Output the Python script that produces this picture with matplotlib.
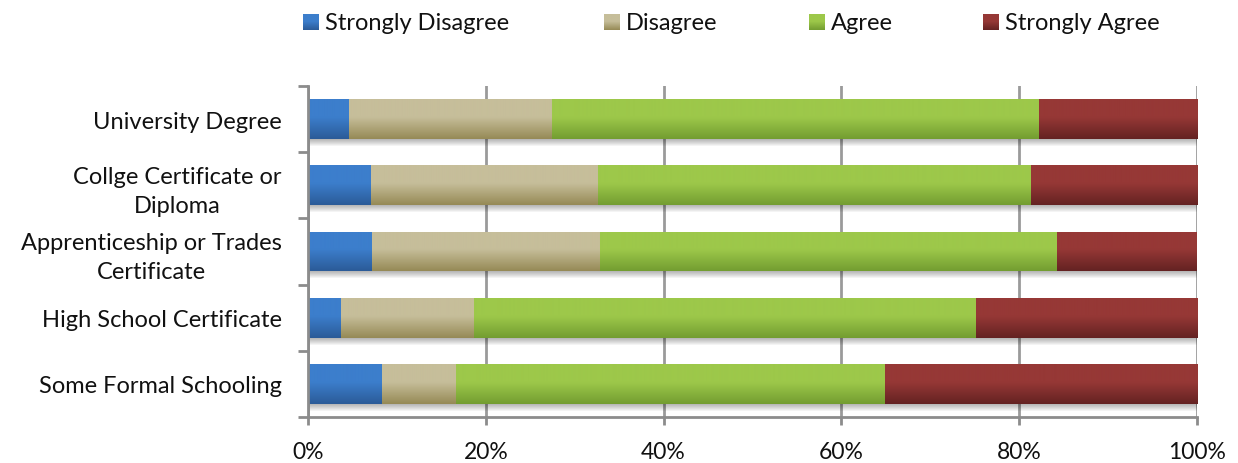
import numpy as np
import matplotlib
matplotlib.use("Agg")
import matplotlib.pyplot as plt
from matplotlib.colors import LinearSegmentedColormap
from matplotlib.patches import Rectangle
from matplotlib.ticker import FixedLocator, PercentFormatter

plt.rcParams['font.family'] = ['Lato', 'DejaVu Sans']

categories = ["University Degree", "Collge Certificate or\nDiploma",
              "Apprenticeship or Trades\nCertificate", "High School Certificate",
              "Some Formal Schooling"]
series_names = ["Strongly Disagree", "Disagree", "Agree", "Strongly Agree"]
strongly_disagree = [4.6, 7.1, 7.2, 3.7, 8.3]
disagree = [22.8, 25.5, 25.6, 15.0, 8.3]
agree = [54.8, 48.7, 51.5, 56.4, 48.3]
strongly_agree = [17.8, 18.7, 15.7, 24.9, 35.1]
x_ticks = [0, 20, 40, 60, 80, 100]

# light (top) / dark (bottom) shade of each series
shades = [("#3C7ECC", "#2B5B98"), ("#C6BE9A", "#968A56"),
          ("#9DC84A", "#739D31"), ("#963836", "#642222")]

W, H = 1238, 464
fig = plt.figure(figsize=(W / 100, H / 100), dpi=100)
ax = fig.add_axes([308 / W, 1 - 418 / H, (1197 - 308) / W, (418 - 87) / H])

values = [strongly_disagree, disagree, agree, strongly_agree]
n = len(categories)
ypos = np.arange(n)[::-1]
h = 0.6
px = 1.0 / 66.0          # one pixel in y data units
pxx = 100.0 / 889.0      # one pixel in x data units

# soft drop shadow under each full bar
totals = np.sum(values, axis=0)
for k in range(7):
    for y, t in zip(ypos, totals):
        ax.add_patch(Rectangle((0, y - h / 2 - (k + 1) * px), t + 3 * pxx,
                               (k + 1) * px + h * 0.5,
                               facecolor="#000000", alpha=0.045, lw=0, zorder=1.5))

grad = np.linspace(0, 1, 120).reshape(-1, 1)

left = np.zeros(n)
for vals, name, (light, dark) in zip(values, series_names, shades):
    bars = ax.barh(ypos, vals, left=left, height=h, color=light, label=name,
                   zorder=2, lw=0)
    cmap = LinearSegmentedColormap.from_list(
        name, [(0, light), (0.45, light), (1, dark)])
    for b in bars:
        x0, y0 = b.get_x(), b.get_y()
        w, hh = b.get_width(), b.get_height()
        im = ax.imshow(grad, cmap=cmap, aspect="auto", vmin=0, vmax=1,
                       extent=(x0, x0 + w, y0, y0 + hh), origin="upper",
                       zorder=2.1, interpolation="bilinear")
        im.set_clip_path(b)
    left = left + np.array(vals)

ax.set_xlim(0, 100)
ax.set_ylim(-0.5, n - 0.5)
ax.set_xticks(x_ticks)
ax.xaxis.set_major_formatter(PercentFormatter(decimals=0))
ax.set_yticks(ypos)
ax.set_yticklabels(categories, fontsize=17, color="#111111")
ax.yaxis.set_minor_locator(FixedLocator(np.arange(n + 1) - 0.5))
ax.tick_params(axis="y", which="major", length=0, pad=19)
ax.tick_params(axis="y", which="minor", length=7, width=2, color="#8c8c8c",
               direction="out")
ax.tick_params(axis="x", length=6, width=2, color="#8c8c8c", direction="out",
               labelsize=16.5, labelcolor="#111111", pad=11)
for lab in ax.get_yticklabels():
    lab.set_multialignment("center")
    lab.set_linespacing(1.45)

ax.grid(axis="x", color="#9a9a9a", lw=2, zorder=0)
ax.set_axisbelow(True)
for s in ["top", "right"]:
    ax.spines[s].set_visible(False)
for s in ["left", "bottom"]:
    ax.spines[s].set_color("#8c8c8c")
    ax.spines[s].set_linewidth(2)

# legend row across the top
key_x = [303, 604, 809, 983]
key_y = 15
key_size = 16
for kx, name, (light, dark) in zip(key_x, series_names, shades):
    kax = fig.add_axes([kx / W, 1 - (key_y + key_size) / H, key_size / W, key_size / H])
    cmap = LinearSegmentedColormap.from_list(
        name + "_key", [(0, light), (0.45, light), (1, dark)])
    kax.imshow(grad, cmap=cmap, aspect="auto", vmin=0, vmax=1,
               interpolation="bilinear")
    kax.set_axis_off()
    fig.text((kx + key_size + 6) / W, 1 - (key_y + key_size / 2 + 1) / H, name,
             fontsize=17, color="#111111", ha="left", va="center")

fig.savefig("out.png", dpi=100)
